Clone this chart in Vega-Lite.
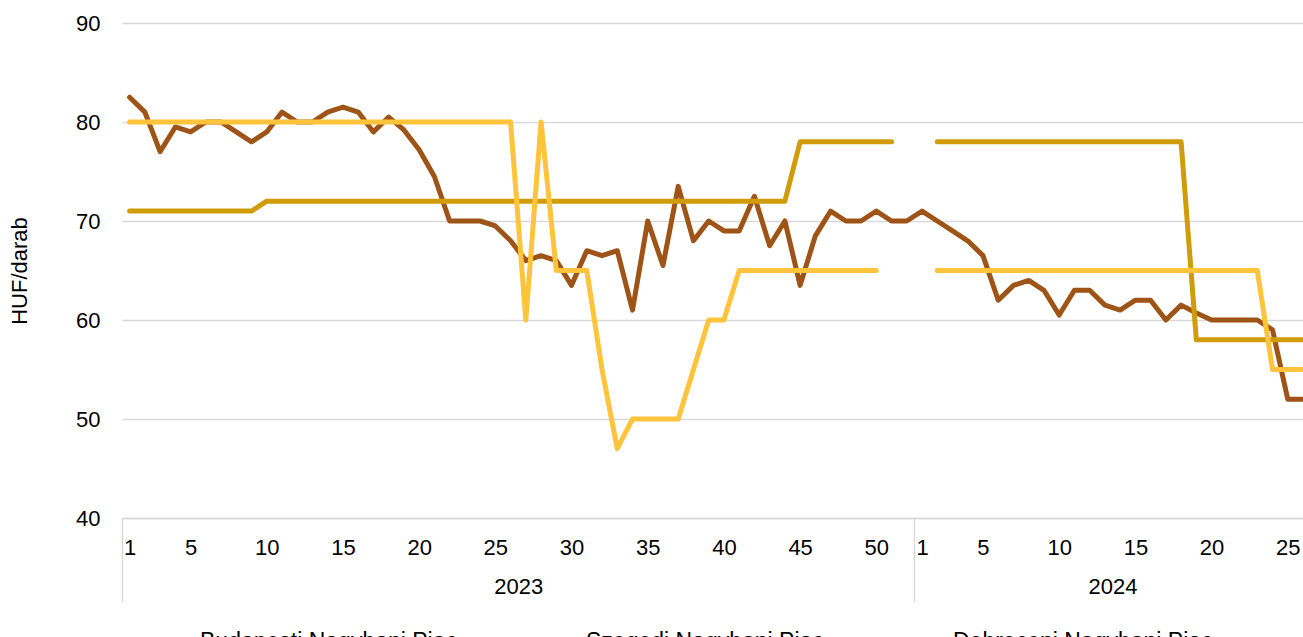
{
  "$schema": "https://vega.github.io/schema/vega-lite/v6.json",
  "autosize": {"type": "none"},
  "width": 1181,
  "height": 495,
  "padding": {"left": 122, "top": 23, "right": 0, "bottom": 119},
  "config": {"font": "Liberation Sans", "view": {"stroke": null}},
  "data": {"values": [
    {"idx":1,"market":"Budapesti Nagybani Piac","price":82.5},{"idx":2,"market":"Budapesti Nagybani Piac","price":81},{"idx":3,"market":"Budapesti Nagybani Piac","price":77},{"idx":4,"market":"Budapesti Nagybani Piac","price":79.5},{"idx":5,"market":"Budapesti Nagybani Piac","price":79},{"idx":6,"market":"Budapesti Nagybani Piac","price":80},{"idx":7,"market":"Budapesti Nagybani Piac","price":80},{"idx":8,"market":"Budapesti Nagybani Piac","price":79},{"idx":9,"market":"Budapesti Nagybani Piac","price":78},{"idx":10,"market":"Budapesti Nagybani Piac","price":79},
    {"idx":11,"market":"Budapesti Nagybani Piac","price":81},{"idx":12,"market":"Budapesti Nagybani Piac","price":80},{"idx":13,"market":"Budapesti Nagybani Piac","price":80},{"idx":14,"market":"Budapesti Nagybani Piac","price":81},{"idx":15,"market":"Budapesti Nagybani Piac","price":81.5},{"idx":16,"market":"Budapesti Nagybani Piac","price":81},{"idx":17,"market":"Budapesti Nagybani Piac","price":79},{"idx":18,"market":"Budapesti Nagybani Piac","price":80.5},{"idx":19,"market":"Budapesti Nagybani Piac","price":79.2},{"idx":20,"market":"Budapesti Nagybani Piac","price":77.2},
    {"idx":21,"market":"Budapesti Nagybani Piac","price":74.5},{"idx":22,"market":"Budapesti Nagybani Piac","price":70},{"idx":23,"market":"Budapesti Nagybani Piac","price":70},{"idx":24,"market":"Budapesti Nagybani Piac","price":70},{"idx":25,"market":"Budapesti Nagybani Piac","price":69.5},{"idx":26,"market":"Budapesti Nagybani Piac","price":68},{"idx":27,"market":"Budapesti Nagybani Piac","price":66},{"idx":28,"market":"Budapesti Nagybani Piac","price":66.5},{"idx":29,"market":"Budapesti Nagybani Piac","price":66},{"idx":30,"market":"Budapesti Nagybani Piac","price":63.5},
    {"idx":31,"market":"Budapesti Nagybani Piac","price":67},{"idx":32,"market":"Budapesti Nagybani Piac","price":66.5},{"idx":33,"market":"Budapesti Nagybani Piac","price":67},{"idx":34,"market":"Budapesti Nagybani Piac","price":61},{"idx":35,"market":"Budapesti Nagybani Piac","price":70},{"idx":36,"market":"Budapesti Nagybani Piac","price":65.5},{"idx":37,"market":"Budapesti Nagybani Piac","price":73.5},{"idx":38,"market":"Budapesti Nagybani Piac","price":68},{"idx":39,"market":"Budapesti Nagybani Piac","price":70},{"idx":40,"market":"Budapesti Nagybani Piac","price":69},
    {"idx":41,"market":"Budapesti Nagybani Piac","price":69},{"idx":42,"market":"Budapesti Nagybani Piac","price":72.5},{"idx":43,"market":"Budapesti Nagybani Piac","price":67.5},{"idx":44,"market":"Budapesti Nagybani Piac","price":70},{"idx":45,"market":"Budapesti Nagybani Piac","price":63.5},{"idx":46,"market":"Budapesti Nagybani Piac","price":68.5},{"idx":47,"market":"Budapesti Nagybani Piac","price":71},{"idx":48,"market":"Budapesti Nagybani Piac","price":70},{"idx":49,"market":"Budapesti Nagybani Piac","price":70},{"idx":50,"market":"Budapesti Nagybani Piac","price":71},
    {"idx":51,"market":"Budapesti Nagybani Piac","price":70},{"idx":52,"market":"Budapesti Nagybani Piac","price":70},{"idx":53,"market":"Budapesti Nagybani Piac","price":71},{"idx":54,"market":"Budapesti Nagybani Piac","price":70},{"idx":55,"market":"Budapesti Nagybani Piac","price":69},{"idx":56,"market":"Budapesti Nagybani Piac","price":68},{"idx":57,"market":"Budapesti Nagybani Piac","price":66.5},{"idx":58,"market":"Budapesti Nagybani Piac","price":62},{"idx":59,"market":"Budapesti Nagybani Piac","price":63.5},{"idx":60,"market":"Budapesti Nagybani Piac","price":64},
    {"idx":61,"market":"Budapesti Nagybani Piac","price":63},{"idx":62,"market":"Budapesti Nagybani Piac","price":60.5},{"idx":63,"market":"Budapesti Nagybani Piac","price":63},{"idx":64,"market":"Budapesti Nagybani Piac","price":63},{"idx":65,"market":"Budapesti Nagybani Piac","price":61.5},{"idx":66,"market":"Budapesti Nagybani Piac","price":61},{"idx":67,"market":"Budapesti Nagybani Piac","price":62},{"idx":68,"market":"Budapesti Nagybani Piac","price":62},{"idx":69,"market":"Budapesti Nagybani Piac","price":60},{"idx":70,"market":"Budapesti Nagybani Piac","price":61.5},
    {"idx":71,"market":"Budapesti Nagybani Piac","price":60.7},{"idx":72,"market":"Budapesti Nagybani Piac","price":60},{"idx":73,"market":"Budapesti Nagybani Piac","price":60},{"idx":74,"market":"Budapesti Nagybani Piac","price":60},{"idx":75,"market":"Budapesti Nagybani Piac","price":60},{"idx":76,"market":"Budapesti Nagybani Piac","price":59},{"idx":77,"market":"Budapesti Nagybani Piac","price":52},{"idx":78,"market":"Budapesti Nagybani Piac","price":52},

    {"idx":1,"market":"Szegedi Nagybani Piac","price":71},{"idx":2,"market":"Szegedi Nagybani Piac","price":71},{"idx":3,"market":"Szegedi Nagybani Piac","price":71},{"idx":4,"market":"Szegedi Nagybani Piac","price":71},{"idx":5,"market":"Szegedi Nagybani Piac","price":71},{"idx":6,"market":"Szegedi Nagybani Piac","price":71},{"idx":7,"market":"Szegedi Nagybani Piac","price":71},{"idx":8,"market":"Szegedi Nagybani Piac","price":71},{"idx":9,"market":"Szegedi Nagybani Piac","price":71},{"idx":10,"market":"Szegedi Nagybani Piac","price":72},
    {"idx":11,"market":"Szegedi Nagybani Piac","price":72},{"idx":12,"market":"Szegedi Nagybani Piac","price":72},{"idx":13,"market":"Szegedi Nagybani Piac","price":72},{"idx":14,"market":"Szegedi Nagybani Piac","price":72},{"idx":15,"market":"Szegedi Nagybani Piac","price":72},{"idx":16,"market":"Szegedi Nagybani Piac","price":72},{"idx":17,"market":"Szegedi Nagybani Piac","price":72},{"idx":18,"market":"Szegedi Nagybani Piac","price":72},{"idx":19,"market":"Szegedi Nagybani Piac","price":72},{"idx":20,"market":"Szegedi Nagybani Piac","price":72},
    {"idx":21,"market":"Szegedi Nagybani Piac","price":72},{"idx":22,"market":"Szegedi Nagybani Piac","price":72},{"idx":23,"market":"Szegedi Nagybani Piac","price":72},{"idx":24,"market":"Szegedi Nagybani Piac","price":72},{"idx":25,"market":"Szegedi Nagybani Piac","price":72},{"idx":26,"market":"Szegedi Nagybani Piac","price":72},{"idx":27,"market":"Szegedi Nagybani Piac","price":72},{"idx":28,"market":"Szegedi Nagybani Piac","price":72},{"idx":29,"market":"Szegedi Nagybani Piac","price":72},{"idx":30,"market":"Szegedi Nagybani Piac","price":72},
    {"idx":31,"market":"Szegedi Nagybani Piac","price":72},{"idx":32,"market":"Szegedi Nagybani Piac","price":72},{"idx":33,"market":"Szegedi Nagybani Piac","price":72},{"idx":34,"market":"Szegedi Nagybani Piac","price":72},{"idx":35,"market":"Szegedi Nagybani Piac","price":72},{"idx":36,"market":"Szegedi Nagybani Piac","price":72},{"idx":37,"market":"Szegedi Nagybani Piac","price":72},{"idx":38,"market":"Szegedi Nagybani Piac","price":72},{"idx":39,"market":"Szegedi Nagybani Piac","price":72},{"idx":40,"market":"Szegedi Nagybani Piac","price":72},
    {"idx":41,"market":"Szegedi Nagybani Piac","price":72},{"idx":42,"market":"Szegedi Nagybani Piac","price":72},{"idx":43,"market":"Szegedi Nagybani Piac","price":72},{"idx":44,"market":"Szegedi Nagybani Piac","price":72},{"idx":45,"market":"Szegedi Nagybani Piac","price":78},{"idx":46,"market":"Szegedi Nagybani Piac","price":78},{"idx":47,"market":"Szegedi Nagybani Piac","price":78},{"idx":48,"market":"Szegedi Nagybani Piac","price":78},{"idx":49,"market":"Szegedi Nagybani Piac","price":78},{"idx":50,"market":"Szegedi Nagybani Piac","price":78},
    {"idx":51,"market":"Szegedi Nagybani Piac","price":78},{"idx":52,"market":"Szegedi Nagybani Piac","price":null},{"idx":53,"market":"Szegedi Nagybani Piac","price":null},{"idx":54,"market":"Szegedi Nagybani Piac","price":78},{"idx":55,"market":"Szegedi Nagybani Piac","price":78},{"idx":56,"market":"Szegedi Nagybani Piac","price":78},{"idx":57,"market":"Szegedi Nagybani Piac","price":78},{"idx":58,"market":"Szegedi Nagybani Piac","price":78},{"idx":59,"market":"Szegedi Nagybani Piac","price":78},{"idx":60,"market":"Szegedi Nagybani Piac","price":78},
    {"idx":61,"market":"Szegedi Nagybani Piac","price":78},{"idx":62,"market":"Szegedi Nagybani Piac","price":78},{"idx":63,"market":"Szegedi Nagybani Piac","price":78},{"idx":64,"market":"Szegedi Nagybani Piac","price":78},{"idx":65,"market":"Szegedi Nagybani Piac","price":78},{"idx":66,"market":"Szegedi Nagybani Piac","price":78},{"idx":67,"market":"Szegedi Nagybani Piac","price":78},{"idx":68,"market":"Szegedi Nagybani Piac","price":78},{"idx":69,"market":"Szegedi Nagybani Piac","price":78},{"idx":70,"market":"Szegedi Nagybani Piac","price":78},
    {"idx":71,"market":"Szegedi Nagybani Piac","price":58},{"idx":72,"market":"Szegedi Nagybani Piac","price":58},{"idx":73,"market":"Szegedi Nagybani Piac","price":58},{"idx":74,"market":"Szegedi Nagybani Piac","price":58},{"idx":75,"market":"Szegedi Nagybani Piac","price":58},{"idx":76,"market":"Szegedi Nagybani Piac","price":58},{"idx":77,"market":"Szegedi Nagybani Piac","price":58},{"idx":78,"market":"Szegedi Nagybani Piac","price":58},

    {"idx":1,"market":"Debreceni Nagybani Piac","price":80},{"idx":2,"market":"Debreceni Nagybani Piac","price":80},{"idx":3,"market":"Debreceni Nagybani Piac","price":80},{"idx":4,"market":"Debreceni Nagybani Piac","price":80},{"idx":5,"market":"Debreceni Nagybani Piac","price":80},{"idx":6,"market":"Debreceni Nagybani Piac","price":80},{"idx":7,"market":"Debreceni Nagybani Piac","price":80},{"idx":8,"market":"Debreceni Nagybani Piac","price":80},{"idx":9,"market":"Debreceni Nagybani Piac","price":80},{"idx":10,"market":"Debreceni Nagybani Piac","price":80},
    {"idx":11,"market":"Debreceni Nagybani Piac","price":80},{"idx":12,"market":"Debreceni Nagybani Piac","price":80},{"idx":13,"market":"Debreceni Nagybani Piac","price":80},{"idx":14,"market":"Debreceni Nagybani Piac","price":80},{"idx":15,"market":"Debreceni Nagybani Piac","price":80},{"idx":16,"market":"Debreceni Nagybani Piac","price":80},{"idx":17,"market":"Debreceni Nagybani Piac","price":80},{"idx":18,"market":"Debreceni Nagybani Piac","price":80},{"idx":19,"market":"Debreceni Nagybani Piac","price":80},{"idx":20,"market":"Debreceni Nagybani Piac","price":80},
    {"idx":21,"market":"Debreceni Nagybani Piac","price":80},{"idx":22,"market":"Debreceni Nagybani Piac","price":80},{"idx":23,"market":"Debreceni Nagybani Piac","price":80},{"idx":24,"market":"Debreceni Nagybani Piac","price":80},{"idx":25,"market":"Debreceni Nagybani Piac","price":80},{"idx":26,"market":"Debreceni Nagybani Piac","price":80},{"idx":27,"market":"Debreceni Nagybani Piac","price":60},{"idx":28,"market":"Debreceni Nagybani Piac","price":80},{"idx":29,"market":"Debreceni Nagybani Piac","price":65},{"idx":30,"market":"Debreceni Nagybani Piac","price":65},
    {"idx":31,"market":"Debreceni Nagybani Piac","price":65},{"idx":32,"market":"Debreceni Nagybani Piac","price":55},{"idx":33,"market":"Debreceni Nagybani Piac","price":47},{"idx":34,"market":"Debreceni Nagybani Piac","price":50},{"idx":35,"market":"Debreceni Nagybani Piac","price":50},{"idx":36,"market":"Debreceni Nagybani Piac","price":50},{"idx":37,"market":"Debreceni Nagybani Piac","price":50},{"idx":38,"market":"Debreceni Nagybani Piac","price":55},{"idx":39,"market":"Debreceni Nagybani Piac","price":60},{"idx":40,"market":"Debreceni Nagybani Piac","price":60},
    {"idx":41,"market":"Debreceni Nagybani Piac","price":65},{"idx":42,"market":"Debreceni Nagybani Piac","price":65},{"idx":43,"market":"Debreceni Nagybani Piac","price":65},{"idx":44,"market":"Debreceni Nagybani Piac","price":65},{"idx":45,"market":"Debreceni Nagybani Piac","price":65},{"idx":46,"market":"Debreceni Nagybani Piac","price":65},{"idx":47,"market":"Debreceni Nagybani Piac","price":65},{"idx":48,"market":"Debreceni Nagybani Piac","price":65},{"idx":49,"market":"Debreceni Nagybani Piac","price":65},{"idx":50,"market":"Debreceni Nagybani Piac","price":65},
    {"idx":51,"market":"Debreceni Nagybani Piac","price":null},{"idx":52,"market":"Debreceni Nagybani Piac","price":null},{"idx":53,"market":"Debreceni Nagybani Piac","price":null},{"idx":54,"market":"Debreceni Nagybani Piac","price":65},{"idx":55,"market":"Debreceni Nagybani Piac","price":65},{"idx":56,"market":"Debreceni Nagybani Piac","price":65},{"idx":57,"market":"Debreceni Nagybani Piac","price":65},{"idx":58,"market":"Debreceni Nagybani Piac","price":65},{"idx":59,"market":"Debreceni Nagybani Piac","price":65},{"idx":60,"market":"Debreceni Nagybani Piac","price":65},
    {"idx":61,"market":"Debreceni Nagybani Piac","price":65},{"idx":62,"market":"Debreceni Nagybani Piac","price":65},{"idx":63,"market":"Debreceni Nagybani Piac","price":65},{"idx":64,"market":"Debreceni Nagybani Piac","price":65},{"idx":65,"market":"Debreceni Nagybani Piac","price":65},{"idx":66,"market":"Debreceni Nagybani Piac","price":65},{"idx":67,"market":"Debreceni Nagybani Piac","price":65},{"idx":68,"market":"Debreceni Nagybani Piac","price":65},{"idx":69,"market":"Debreceni Nagybani Piac","price":65},{"idx":70,"market":"Debreceni Nagybani Piac","price":65},
    {"idx":71,"market":"Debreceni Nagybani Piac","price":65},{"idx":72,"market":"Debreceni Nagybani Piac","price":65},{"idx":73,"market":"Debreceni Nagybani Piac","price":65},{"idx":74,"market":"Debreceni Nagybani Piac","price":65},{"idx":75,"market":"Debreceni Nagybani Piac","price":65},{"idx":76,"market":"Debreceni Nagybani Piac","price":55},{"idx":77,"market":"Debreceni Nagybani Piac","price":55},{"idx":78,"market":"Debreceni Nagybani Piac","price":55}
  ]},
  "mark": {"type": "line", "strokeWidth": 5, "strokeCap": "round", "strokeJoin": "round", "invalid": "break-paths-show-domains"},
  "encoding": {
    "x": {
      "field": "idx", "type": "quantitative",
      "scale": {"domain": [0.5, 78], "nice": false, "zero": false},
      "axis": {
        "title": null,
        "grid": false,
        "values": [0.5, 1, 5, 10, 15, 20, 25, 26.5, 30, 35, 40, 45, 50, 52.5, 53, 57, 62, 65.5, 67, 72, 77],
        "labelExpr": "datum.value == 26.5 ? ['', '2023'] : datum.value == 65.5 ? ['', '2024'] : (datum.value % 1 != 0 ? '' : (datum.value > 52 ? '' + (datum.value - 52) : '' + datum.value))",
        "labelOverlap": false, "labelFlush": false, "labelBound": false,
        "labelFontSize": 22, "labelColor": "#000000", "labelPadding": -65, "labelLineHeight": 39,
        "ticks": true, "tickSize": 84, "tickWidth": 1.5,
        "tickColor": {"condition": {"test": "datum.value == 0.5 || datum.value == 52.5", "value": "#d9d9d9"}, "value": "transparent"},
        "domainColor": "#d9d9d9", "domainWidth": 1.5
      }
    },
    "y": {
      "field": "price", "type": "quantitative",
      "scale": {"domain": [40, 90], "nice": false, "zero": false},
      "axis": {
        "title": "HUF/darab", "titleFontSize": 22, "titleFontWeight": "normal", "titleColor": "#000000", "titlePadding": 44,
        "values": [40, 50, 60, 70, 80, 90],
        "domain": false, "ticks": false,
        "gridColor": "#d9d9d9", "gridWidth": 1.5,
        "labelFontSize": 22, "labelColor": "#000000", "labelPadding": 22
      }
    },
    "color": {
      "field": "market", "type": "nominal",
      "scale": {"domain": ["Budapesti Nagybani Piac", "Szegedi Nagybani Piac", "Debreceni Nagybani Piac"], "range": ["#9E5416", "#D19C0C", "#FFC33C"]},
      "legend": {
        "orient": "none", "legendX": 13, "legendY": 588, "direction": "horizontal", "title": null,
        "symbolType": "stroke", "symbolSize": 3025, "symbolStrokeWidth": 6,
        "labelFontSize": 23, "labelColor": "#000000", "labelOffset": 4, "columnPadding": 55, "labelLimit": 400, "padding": 0
      }
    }
  }
}
